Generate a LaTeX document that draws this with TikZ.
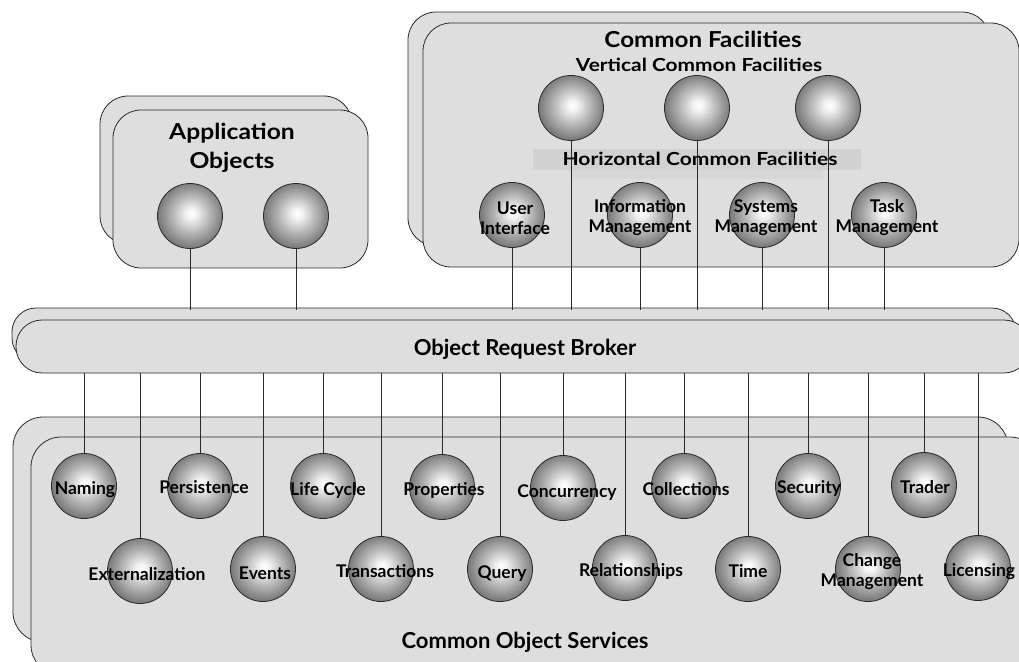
\documentclass[tikz,border=0pt]{standalone}
\usepackage{fontspec}
\setmainfont{Lato}
\pgfdeclarelayer{bg}
\pgfdeclarelayer{lines}
\pgfsetlayers{bg,lines,main}
\pgfdeclareradialshading{sphere}{\pgfpoint{1bp}{2bp}}{%
  color(0bp)=(white);
  color(4bp)=(white!95!black);
  color(14bp)=(black!28);
  color(25bp)=(black!52);
  color(50bp)=(black!52)}
\definecolor{boxgray}{HTML}{DEDEDE}
\definecolor{bandgray}{HTML}{D2D2D2}
\definecolor{bandlow}{HTML}{D7D7D7}
\definecolor{linegray}{HTML}{2A2A2A}
\tikzset{
  panel/.style={draw=linegray, line width=0.8pt, fill=boxgray, rounded corners=28pt},
  sph/.style={circle, draw=linegray, line width=0.8pt, shading=sphere, minimum size=65pt, inner sep=0pt},
  lbl/.style={font=\fontsize{17.5}{20}\selectfont\bfseries, align=center, inner sep=0pt, anchor=base},
  lbltwo/.style={font=\fontsize{17.5}{20}\selectfont\bfseries, align=center, inner sep=0pt},
  title/.style={font=\fontsize{22}{29}\selectfont\bfseries, align=center, inner sep=0pt, anchor=base},
  conn/.style={draw=linegray, line width=0.8pt}
}
\begin{document}
\begin{tikzpicture}[x=1pt,y=-1pt]
\useasboundingbox (0,0) rectangle (1019,661);
\begin{pgfonlayer}{bg}
\begin{scope}
\clip (0,0) rectangle (1019,661);
% Common Facilities
\path[panel] (408,12) rectangle (990,246);
\path[panel] (423,23) rectangle (1019,267);
% Application Objects
\path[panel] (100,96) rectangle (352,244);
\path[panel] (113,110) rectangle (368,268);
% ORB
\path[panel, rounded corners=24pt] (12,308) rectangle (1016,362);
\path[panel, rounded corners=26pt] (16,320) rectangle (1030,373);
% COS
\path[panel, rounded corners=30pt] (13,417) rectangle (1008,642);
\path[panel, rounded corners=30pt] (31,437) rectangle (1040,675);
\end{scope}
% band
\fill[bandgray] (533,149) rectangle (861,170);
\fill[bandlow] (570,170) rectangle (823,179);
\end{pgfonlayer}

% anchors
\coordinate (orbtop) at (0,310);
\coordinate (orbbot) at (0,373);

% Titles
\node[title, xscale=1.1] (cft) at (703,48) {Common Facilities};
\node[title, font=\fontsize{18}{20}\selectfont\bfseries, xscale=1.16] (vcf) at (699,71) {Vertical Common Facilities};
\node[title, font=\fontsize{18}{20}\selectfont\bfseries, xscale=1.17] (hcf) at (700,165) {Horizontal Common Facilities};
\node[title, anchor=center, xscale=1.12] (aot) at (232,148) {Application\\Objects};
\node[title] (orbt) at (525,355) {Object Request Broker};
\node[title] (cost) at (525,648) {Common Object Services};

% Application object spheres
\node[sph] (ao1) at (190,216) {};
\node[sph] (ao2) at (296,216) {};
% Vertical CF spheres
\node[sph] (v1) at (571,108) {};
\node[sph] (v2) at (697,108) {};
\node[sph] (v3) at (828,108) {};
% Horizontal CF spheres
\node[sph] (h1) at (512,215) {};
\node[sph] (h2) at (640,215) {};
\node[sph] (h3) at (762,215) {};
\node[sph] (h4) at (884,215) {};
% COS row 1
\node[sph] (s1) at (84,486) {};
\node[sph] (s2) at (200,486) {};
\node[sph] (s3) at (323,486) {};
\node[sph] (s4) at (442,487) {};
\node[sph] (s5) at (563,488) {};
\node[sph] (s6) at (684,486) {};
\node[sph] (s7) at (808,486) {};
\node[sph] (s8) at (924,485) {};
% COS row 2
\node[sph] (t1) at (140,571) {};
\node[sph] (t2) at (263,569) {};
\node[sph] (t3) at (381,569) {};
\node[sph] (t4) at (500,569) {};
\node[sph] (t5) at (625,568) {};
\node[sph] (t6) at (748,569) {};
\node[sph] (t7) at (868,569) {};
\node[sph] (t8) at (978,568) {};

% connectors (behind spheres)
\begin{pgfonlayer}{lines}
\foreach \n in {ao1,ao2,h1,h2,h3,h4,v1,v2,v3}{
  \draw[conn] (\n.south) -- (\n.south |- orbtop);
}
\foreach \n in {s1,s2,s3,s4,s5,s6,s7,s8,t1,t2,t3,t4,t5,t6,t7,t8}{
  \draw[conn] (\n.north) -- (\n.north |- orbbot);
}
\end{pgfonlayer}

% labels
\node[lbltwo] (lh1) at (515,218) {User\\Interface};
\node[lbltwo] (lh2) at (640,218) {Information\\Management};
\node[lbltwo] (lh3) at (766,218) {Systems\\Management};
\node[lbltwo] (lh4) at (887,218) {Task\\Management};

\node[lbl] (ls1) at (85,494) {Naming};
\node[lbl] (ls2) at (204,493) {Persistence};
\node[lbl] (ls3) at (328,495) {Life Cycle};
\node[lbl] (ls4) at (444,495) {Properties};
\node[lbl] (ls5) at (567,497) {Concurrency};
\node[lbl] (ls6) at (686,495) {Collections};
\node[lbl] (ls7) at (809,493) {Security};
\node[lbl] (ls8) at (925,493) {Trader};

\node[lbl] (lt1) at (147,580) {Externalization};
\node[lbl] (lt2) at (265,579) {Events};
\node[lbl] (lt3) at (385,577) {Transactions};
\node[lbl] (lt4) at (502,578) {Query};
\node[lbl] (lt5) at (631,576) {Relationships};
\node[lbl] (lt6) at (748,577) {Time};
\node[lbltwo] (lt7) at (872,572) {Change\\Management};
\node[lbl] (lt8) at (979,576) {Licensing};
\end{tikzpicture}
\end{document}
